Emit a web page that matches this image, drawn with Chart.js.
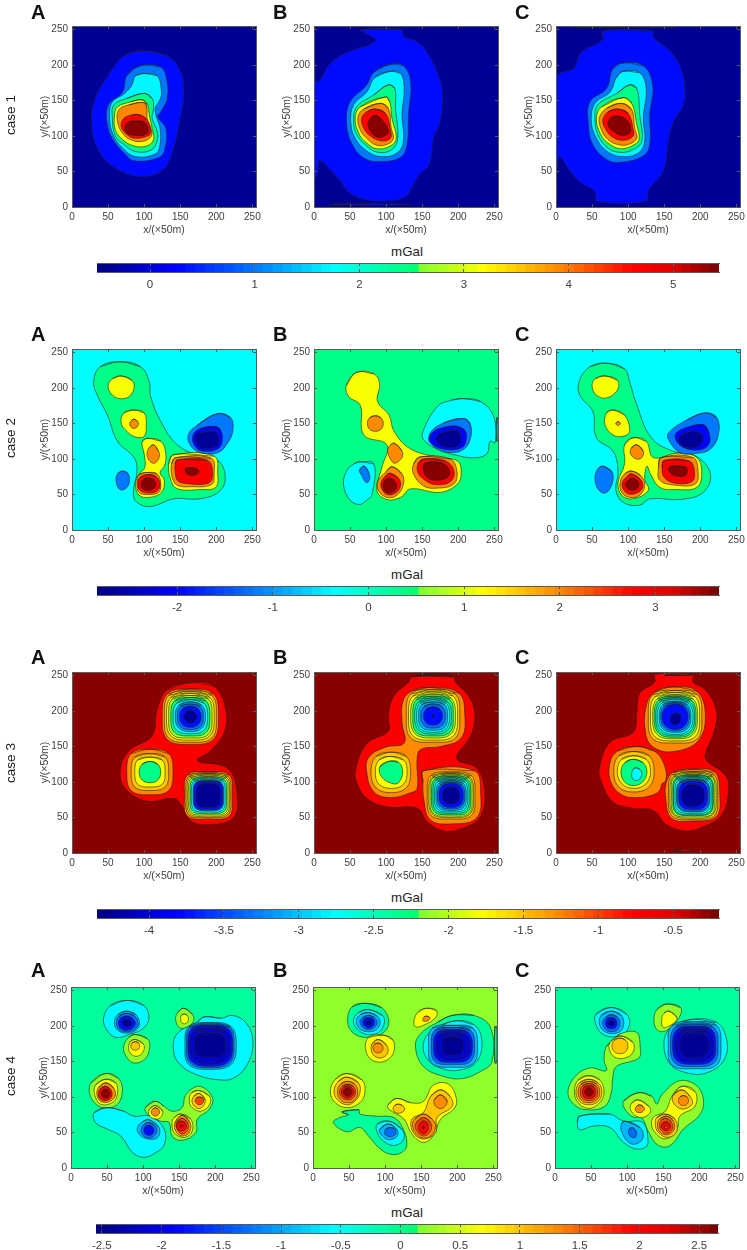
<!DOCTYPE html>
<html>
<head>
<meta charset="utf-8">
<title>case 1-4</title>
<script src="https://cdn.jsdelivr.net/npm/chart.js@4"></script>
<style>
html, body { margin: 0; padding: 0; background: #fff; }
body { position: relative; width: 747px; height: 1250px; overflow: hidden; font-family: "Liberation Sans", Arial, sans-serif; }
canvas { position: absolute; }
.letter { position: absolute; font-weight: bold; font-size: 20px; line-height: 20px; color: #111; }
.case { position: absolute; font-size: 13.5px; line-height: 14px; color: #222; transform: translate(-50%, -50%) rotate(-90deg); white-space: nowrap; }
.unit { position: absolute; font-size: 13.3px; line-height: 14px; color: #222; transform: translate(-50%, -50%); }
</style>
</head>
<body>
<script>
const axisMax = 255;
const axisTicks = [0, 50, 100, 150, 200, 250];

// colorbar range and tick labels of each case (mGal)
const barRange1 = [-0.507, 5.437];
const barRange2 = [-2.838, 3.665];
const barRange3 = [-4.348, -0.193];
const barRange4 = [-2.549, 2.658];
const barTicks1 = [0, 1, 2, 3, 4, 5];
const barTicks2 = [-2, -1, 0, 1, 2, 3];
const barTicks3 = [-4, -3.5, -3, -2.5, -2, -1.5, -1, -0.5];
const barTicks4 = [-2.5, -2, -1.5, -1, -0.5, 0, 0.5, 1, 1.5, 2, 2.5];

// value of each filled contour band (mGal)
const levels1 = [-0.39, 0.3, 0.98, 1.7, 2.4, 3.15, 3.9, 4.6, 5.35];
const levels2 = [-2.7, -2.0, -1.2, -0.37, 0.35, 1.16, 1.97, 2.82, 3.57];
const levels3 = [-0.255, -0.73, -1.27, -1.52, -1.79, -2.1, -2.31, -2.56, -2.79, -3.1, -3.35, -3.77, -4.27];
const levels4 = [-2.45, -2.08, -1.82, -1.3, -0.93, -0.6, -0.1, 0.21, 0.65, 0.99, 1.3, 1.62, 1.98, 2.35, 2.58];

// band behind the contours, panels A B C
const back1 = [0, 0, 0];
const back2 = [3, 4, 3];
const back3 = [0, 0, 0];
const back4 = [6, 7, 6];

// contours: [band index, [[x, y], ...]] in x/(×50m), y/(×50m)
const case1A = [
 [1,[[95,220],[132,213],[151,190],[155,158],[151,130],[141,83],[127,53],[95,43],[58,56],[35,83],[27,120],[32,153],[53,190],[72,213]]],
 [2,[[95,199],[123,197],[131,181],[132,153],[123,134],[119,127],[130,111],[129,83],[121,70],[86,65],[72,76],[60,90],[50,111],[50,143],[70,162],[76,185]]],
 [3,[[100,188],[118,185],[124,162],[122,151],[115,137],[122,111],[122,88],[116,75],[88,71],[70,83],[56,104],[52,130],[56,148],[73,160],[83,172],[88,185]]],
 [4,[[100,160],[111,153],[113,139],[111,125],[118,107],[118,93],[109,80],[88,78],[72,88],[60,100],[56,125],[58,144],[76,153]]],
 [5,[[97,151],[105,144],[107,130],[111,111],[113,95],[104,86],[86,86],[70,95],[60,109],[59,130],[63,141],[81,148]]],
 [6,[[100,147],[104,139],[104,125],[110,109],[110,100],[100,93],[83,94],[70,104],[63,121],[65,137],[79,144]]],
 [7,[[93,130],[104,123],[109,109],[107,101],[86,97],[74,104],[68,114],[72,125],[81,129]]],
 [8,[[88,121],[100,120],[106,109],[102,102],[86,101],[76,104],[73,112],[79,120]]]
];
const case1B = [
 [1,[[64,250],[122,250],[124,241],[143,233],[157,218],[171,190],[178,162],[175,120],[166,97],[160,60],[147,46],[136,28],[129,16],[110,9],[78,9],[50,19],[36,37],[22,53],[8,65],[5,46],[-2,37],[-2,178],[7,178],[20,199],[41,216],[85,234],[69,246]]],
 [1,[[22,4],[75,5],[135,4],[75,2.5]]],
 [2,[[106,201],[124,199],[134,176],[131,130],[129,88],[120,70],[92,64],[69,69],[52,90],[45,120],[50,148],[73,172],[83,190]]],
 [3,[[106,191],[120,188],[125,167],[122,130],[124,93],[115,76],[92,71],[73,79],[57,97],[51,120],[55,144],[73,162],[85,183]]],
 [4,[[103,172],[112,167],[113,139],[116,97],[108,81],[89,77],[73,86],[59,102],[55,120],[59,141],[83,158]]],
 [5,[[99,155],[105,148],[108,125],[114,97],[106,86],[87,82],[73,90],[62,104],[57,125],[64,141]]],
 [6,[[92,146],[103,139],[107,111],[110,97],[103,89],[87,87],[73,97],[64,109],[61,127],[69,138]]],
 [7,[[85,138],[99,132],[106,109],[106,97],[94,93],[78,100],[69,111],[66,125],[73,134]]],
 [8,[[85,129],[94,123],[103,109],[101,102],[89,98],[80,104],[75,114],[77,123]]]
];
const case1C = [
 [1,[[65,248],[135,248],[135,239],[156,222],[172,199],[179,167],[177,144],[163,120],[156,93],[149,51],[128,23],[125,8],[56,8],[54,21],[33,35],[19,51],[5,70],[1,42],[-2,40],[-2,180],[7,189],[24,195],[35,218],[65,236]]],
 [1,[[26,252.5],[95,253],[165,252.5],[95,254.5]]],
 [2,[[93,203],[121,199],[134,172],[130,130],[130,88],[121,72],[89,63],[70,67],[51,88],[45,116],[47,148],[70,167],[79,195]]],
 [3,[[93,191],[116,189],[125,167],[121,125],[123,93],[114,76],[91,71],[70,79],[56,97],[49,120],[54,146],[75,162],[84,183]]],
 [4,[[102,172],[112,167],[116,130],[119,93],[107,81],[89,77],[72,83],[58,102],[54,125],[58,144],[84,160]]],
 [5,[[93,154],[105,146],[112,116],[115,95],[105,86],[89,82],[72,90],[61,104],[56,125],[63,141]]],
 [6,[[91,146],[105,137],[109,111],[112,97],[100,88],[86,88],[72,95],[63,109],[60,125],[70,139]]],
 [7,[[86,138],[100,132],[107,109],[107,100],[95,94],[79,98],[68,111],[65,123],[72,134]]],
 [8,[[84,128],[95,125],[103,114],[102,104],[91,101],[79,107],[72,116],[75,125]]]
];

const case2A = [
 [4,[[67,237],[95,230],[107,209],[109,188],[123,153],[146,120],[178,104],[201,99],[212,79],[206,56],[178,44],[141,44],[109,33],[90,39],[85,53],[90,83],[86,102],[63,125],[49,162],[35,190],[30,209],[39,230]]],
 [5,[[68,217],[83,211],[86,200],[79,188],[67,185],[56,190],[50,202],[56,213]]],
 [5,[[86,169],[100,165],[103,148],[100,132],[88,131],[76,139],[68,151],[72,165]]],
 [6,[[86,156],[91,153],[92,149],[90,145],[85,143],[81,146],[80,150],[82,154]]],
 [5,[[104,129],[123,125],[130,107],[128,90],[122,81],[128,70],[124,53],[107,46],[93,49],[88,65],[93,79],[101,88],[100,107],[97,124]]],
 [6,[[113,120],[120,111],[121,104],[118,97],[113,94],[107,98],[104,107],[107,116]]],
 [6,[[104,81],[118,79],[123,65],[120,53],[104,50],[93,53],[90,65],[93,78]]],
 [7,[[105,78],[117,75],[122,64],[118,55],[105,52],[94,56],[91,64],[94,74]]],
 [8,[[107,73],[114,70],[116,64],[113,58],[104,56],[97,59],[96,66],[100,72]]],
 [5,[[141,106],[197,104],[202,79],[199,60],[178,57],[146,58],[137,70],[134,93]]],
 [6,[[144,102],[193,101],[197,79],[193,64],[165,61],[146,63],[139,74],[138,93]]],
 [7,[[146,99],[188,98],[195,79],[189,66],[155,66],[146,70],[143,83],[143,93]]],
 [8,[[157,86],[171,87],[176,82],[169,77],[160,79]]],
 [2,[[70,83],[78,79],[79,65],[72,57],[65,58],[61,70],[63,79]]],
 [2,[[202,164],[220,158],[223,141],[216,123],[202,109],[178,109],[165,118],[161,134],[174,148]]],
 [1,[[197,146],[206,141],[208,125],[202,114],[183,111],[172,116],[167,130],[174,141]]],
 [0,[[197,139],[202,134],[202,120],[192,115],[178,116],[172,125],[172,134],[178,137]]]
];
const case2B = [
 [5,[[59,222],[83,220],[91,206],[88,181],[104,162],[111,139],[134,114],[175,102],[199,97],[204,81],[199,65],[175,53],[134,58],[120,46],[101,43],[87,56],[94,88],[101,120],[69,134],[64,176],[48,188],[45,204]]],
 [6,[[85,161],[93,158],[96,150],[93,142],[85,139],[77,142],[74,150],[77,158]]],
 [6,[[112,122],[122,111],[122,102],[112,94],[106,100],[102,111],[106,120]]],
 [6,[[108,89],[122,79],[124,65],[115,49],[101,46],[89,56],[89,70],[99,81]]],
 [7,[[105,80],[117,73],[120,63],[113,52],[101,50],[94,58],[93,67],[99,76]]],
 [8,[[105,73],[113,67],[114,58],[108,53],[100,53],[96,60],[97,68]]],
 [6,[[147,103],[189,100],[198,83],[194,65],[171,59],[152,62],[138,79],[138,93]]],
 [7,[[152,100],[183,97],[194,83],[189,68],[168,64],[154,70],[144,81],[144,93]]],
 [8,[[154,94],[178,94],[188,83],[185,74],[168,70],[157,74],[152,83]]],
 [3,[[208,185],[231,181],[249,160],[251,123],[244,125],[240,108],[226,102],[203,104],[171,114],[152,127],[151,139],[171,174],[191,183]]],
 [3,[[253,158],[254.5,158],[254.5,125],[253,125]]],
 [2,[[208,157],[217,148],[217,130],[208,114],[189,109],[171,114],[161,125],[161,137],[180,151]]],
 [1,[[198,146],[210,139],[210,123],[203,115],[185,113],[168,118],[159,127],[166,139],[182,145]]],
 [0,[[198,140],[203,132],[201,120],[189,116],[175,120],[169,130],[178,137]]],
 [3,[[64,96],[83,93],[80,49],[73,42],[63,36],[50,42],[41,63],[45,83],[55,93]]],
 [2,[[69,90],[76,81],[77,70],[72,67],[66,77],[63,84]]]
];
const case2C = [
 [4,[[70,235],[95,227],[102,209],[111,179],[132,130],[162,111],[194,104],[214,79],[204,53],[172,43],[130,44],[116,35],[93,39],[83,56],[86,83],[79,111],[56,130],[51,167],[33,190],[32,209],[47,230]]],
 [5,[[68,217],[85,211],[85,197],[70,186],[56,190],[50,202],[54,213]]],
 [5,[[79,169],[95,162],[102,139],[93,132],[79,134],[68,148],[70,165]]],
 [6,[[86,153],[89,150],[86,147],[83,150]]],
 [5,[[107,130],[125,125],[135,102],[167,108],[195,102],[202,79],[195,60],[167,57],[144,60],[131,79],[126,90],[123,72],[128,56],[107,44],[91,49],[86,67],[95,93],[95,120]]],
 [6,[[112,120],[121,111],[119,102],[112,100],[104,106],[104,115]]],
 [6,[[105,83],[118,76],[123,63],[116,49],[102,46],[91,53],[89,67],[95,79]]],
 [7,[[105,79],[118,70],[120,60],[112,52],[100,51],[93,58],[92,67],[98,75]]],
 [8,[[106,73],[114,67],[114,60],[106,56],[98,60],[97,66]]],
 [6,[[146,102],[190,102],[197,81],[193,65],[167,63],[144,70],[142,88]]],
 [7,[[150,98],[185,97],[192,81],[188,68],[165,66],[150,74],[147,88]]],
 [8,[[158,89],[179,89],[182,83],[178,76],[163,77],[157,83]]],
 [2,[[65,90],[78,81],[77,63],[68,52],[58,58],[54,74],[58,86]]],
 [2,[[207,165],[223,158],[225,134],[214,114],[195,108],[172,109],[156,127],[156,137],[181,155]]],
 [1,[[205,148],[212,137],[212,121],[200,113],[177,116],[166,127],[167,137],[186,146]]],
 [0,[[190,139],[202,134],[202,123],[190,116],[177,118],[170,127],[174,134]]]
];

const case3A = [
 [1,[[165,240],[197,235],[213,202],[211,170],[192,144],[174,130],[216,119],[229,82],[223,49],[188,40],[165,45],[151,68],[141,77],[104,73],[74,91],[67,116],[79,144],[111,165],[118,202],[132,230]]],
 [2,[[164,231],[196,224],[203,192],[196,160],[164,153],[132,160],[125,192],[132,224]]],
 [3,[[164,228],[194,222],[200,192],[194,162],[164,156],[134,162],[128,192],[134,222]]],
 [4,[[164,225],[191,219],[197,192],[191,165],[164,159],[137,165],[131,192],[137,219]]],
 [5,[[164,222],[189,217],[194,192],[189,167],[164,162],[139,167],[134,192],[139,217]]],
 [6,[[164,219],[186,214],[191,192],[186,170],[164,165],[142,170],[137,192],[142,214]]],
 [8,[[164,216],[183,211],[188,192],[183,173],[164,168],[145,173],[140,192],[145,211]]],
 [9,[[164,213],[180,208],[185,192],[180,176],[164,171],[148,176],[143,192],[148,208]]],
 [10,[[164,210],[178,206],[182,192],[178,178],[164,174],[150,178],[146,192],[150,206]]],
 [11,[[164,207],[175,203],[179,192],[175,181],[164,177],[153,181],[149,192],[153,203]]],
 [12,[[164,201],[170,198],[173,192],[170,186],[164,183],[158,186],[155,192],[158,198]]],
 [2,[[189,114],[218,110],[222,81],[218,52],[189,48],[160,52],[156,81],[160,110]]],
 [3,[[189,112],[216,108],[220,81],[216,54],[189,50],[162,54],[158,81],[162,108]]],
 [4,[[189,110],[214.5,106.5],[218,81],[214.5,55.5],[189,52],[163.5,55.5],[160,81],[163.5,106.5]]],
 [5,[[189,108],[213,105],[216,81],[213,57],[189,54],[165,57],[162,81],[165,105]]],
 [7,[[189,106],[211,103],[214,81],[211,59],[189,56],[167,59],[164,81],[167,103]]],
 [8,[[189,104],[209,101],[212,81],[209,61],[189,58],[169,61],[166,81],[169,101]]],
 [10,[[189,102],[207,99],[210,81],[207,63],[189,60],[171,63],[168,81],[171,99]]],
 [11,[[189,101],[206,98],[209,81],[206,64],[189,61],[172,64],[169,81],[172,98]]],
 [12,[[189,98],[203,95],[206,81],[203,67],[189,64],[175,67],[172,81],[175,95]]],
 [2,[[108,146],[134,140],[140,114],[134,88],[108,82],[82,88],[76,114],[82,140]]],
 [3,[[108,140],[129,135],[134,114],[129,93],[108,88],[87,93],[82,114],[87,135]]],
 [4,[[108,135],[125,131],[129,114],[125,97],[108,93],[91,97],[87,114],[91,131]]],
 [6,[[108,129],[119,125],[123,114],[119,103],[108,99],[97,103],[93,114],[97,125]]]
];
const case3B = [
 [1,[[135,248],[194,248],[196,241],[215,220],[223,195],[217,165],[198,133],[226,119],[237,82],[229,49],[203,34],[180,31],[157,44],[143,63],[101,65],[73,77],[59,100],[58,119],[73,154],[103,172],[103,193],[110,220],[131,241]]],
 [0,[[143,251],[166,252],[190,251],[166,250]]],
 [2,[[164,233],[201,225],[209,195],[204,162],[175,150],[148,146],[143,133],[143,91],[134,85],[106,78],[83,86],[73,114],[76,135],[99,149],[125,155],[122,184],[124,216],[138,229]]],
 [2,[[152,116],[222,116],[231,82],[225,49],[189,41],[161,47],[152,77],[151,100]]],
 [3,[[165,230],[196,224],[202,193],[196,162],[165,156],[134,162],[128,193],[134,224]]],
 [4,[[165,227],[193,221],[199,193],[193,165],[165,159],[137,165],[131,193],[137,221]]],
 [5,[[165,224],[190,218],[196,193],[190,168],[165,162],[140,168],[134,193],[140,218]]],
 [6,[[165,221],[188,216],[193,193],[188,170],[165,165],[142,170],[137,193],[142,216]]],
 [7,[[165,218.5],[185,213],[190.5,193],[185,173],[165,167.5],[145,173],[139.5,193],[145,213]]],
 [8,[[165,216],[183,211],[188,193],[183,175],[165,170],[147,175],[142,193],[147,211]]],
 [9,[[165,213],[181,209],[185,193],[181,177],[165,173],[149,177],[145,193],[149,209]]],
 [10,[[165,210],[178,206],[182,193],[178,180],[165,176],[152,180],[148,193],[152,206]]],
 [11,[[165,206],[174.5,202.5],[178,193],[174.5,183.5],[165,180],[155.5,183.5],[152,193],[155.5,202.5]]],
 [12,[[165,195],[167,193],[165,191],[163,193]]],
 [3,[[107,142],[128,136],[134,114],[128,92],[107,85],[86,92],[79,114],[86,136]]],
 [4,[[105,136],[124,131],[129,114],[124,97],[107,91],[90,97],[85,114],[90,131]]],
 [6,[[103,129],[117,128],[123,114],[117,99],[108,98],[94,107],[91,121]]],
 [3,[[190,114],[218,109],[223,81],[218,53],[190,48],[162,53],[157,81],[162,109]]],
 [4,[[190,112],[216,107],[221,81],[216,55],[190,50],[164,55],[159,81],[164,107]]],
 [5,[[190,110],[215,106],[219,81],[215,56],[190,52],[165,56],[161,81],[165,106]]],
 [6,[[190,108],[213,104],[217,81],[213,58],[190,54],[167,58],[163,81],[167,104]]],
 [7,[[190,106],[211,102],[215,81],[211,60],[190,56],[169,60],[165,81],[169,102]]],
 [8,[[190,104],[209,100],[213,81],[209,62],[190,58],[171,62],[167,81],[171,100]]],
 [9,[[190,102],[207,98],[211,81],[207,64],[190,60],[173,64],[169,81],[173,98]]],
 [10,[[190,100],[205,96],[209,81],[205,66],[190,62],[175,66],[171,81],[175,96]]],
 [11,[[190,98],[203,94],[207,81],[203,68],[190,64],[177,68],[173,81],[177,94]]],
 [12,[[190,93],[199,90],[202,81],[199,72],[190,69],[181,72],[178,81],[181,90]]]
];
const case3C = [
 [1,[[137,252],[190,252],[190,241],[207,230],[222,202],[220,174],[207,139],[209,130],[235,109],[239,86],[230,54],[204,37],[181,31],[153,40],[135,60],[107,63],[79,72],[63,100],[60,119],[75,156],[107,170],[112,197],[116,225],[137,241]]],
 [0,[[150,250.5],[170,251],[190,250.5],[170,250]]],
 [1,[[163,4],[176,5],[190,4],[176,2.5]]],
 [2,[[163,234],[195,228],[207,195],[197,158],[163,143],[135,149],[124,170],[126,211],[139,228]]],
 [2,[[112,150],[135,144],[146,133],[153,112],[151,100],[147,98],[144,89],[135,82],[112,78],[91,82],[76,100],[75,128],[86,144]]],
 [2,[[190,118],[220,114],[227,82],[222,51],[190,45],[160,49],[152,77],[153,100],[163,114]]],
 [3,[[165,229],[196,223],[202,192],[196,161],[165,155],[134,161],[128,192],[134,223]]],
 [4,[[165,226],[193,220],[199,192],[193,164],[165,158],[137,164],[131,192],[137,220]]],
 [5,[[165,223],[190,217],[196,192],[190,167],[165,161],[140,167],[134,192],[140,217]]],
 [6,[[165,221],[188,215],[194,192],[188,169],[165,163],[142,169],[136,192],[142,215]]],
 [7,[[165,219],[186,213],[192,192],[186,171],[165,165],[144,171],[138,192],[144,213]]],
 [8,[[165,217],[184,211],[190,192],[184,173],[165,167],[146,173],[140,192],[146,211]]],
 [9,[[165,214],[182,209],[187,192],[182,175],[165,170],[148,175],[143,192],[148,209]]],
 [10,[[165,212],[180,207],[185,192],[180,177],[165,172],[150,177],[145,192],[150,207]]],
 [11,[[165,210],[178,205],[183,192],[178,179],[165,174],[152,179],[147,192],[152,205]]],
 [12,[[166,197],[172,195],[173,189],[170,182],[163,181],[159,185],[160,194]]],
 [3,[[108,143],[129,137],[136,115],[129,93],[108,86],[87,93],[80,115],[87,137]]],
 [4,[[108,137],[125,132],[131,115],[125,98],[108,91],[91,98],[85,115],[91,132]]],
 [6,[[107,132],[121,127],[126,114],[120,100],[107,95],[95,100],[90,114],[95,127]]],
 [8,[[111,120],[117,117],[119,111],[116,104],[111,102],[106,105],[105,112],[107,118]]],
 [3,[[190,115],[219,110],[224,81],[219,52],[190,47],[161,52],[156,81],[161,110]]],
 [4,[[190,113],[217,108],[222,81],[217,54],[190,49],[163,54],[158,81],[163,108]]],
 [5,[[190,111],[216,107],[220,81],[216,55],[190,51],[164,55],[160,81],[164,107]]],
 [6,[[190,109],[214,105],[218,81],[214,57],[190,53],[166,57],[162,81],[166,105]]],
 [7,[[190,108],[213,104],[217,81],[213,58],[190,54],[167,58],[163,81],[167,104]]],
 [8,[[190,106],[211,102],[215,81],[211,60],[190,56],[169,60],[165,81],[169,102]]],
 [9,[[190,104],[209,100],[213,81],[209,62],[190,58],[171,62],[167,81],[171,100]]],
 [10,[[190,103],[208,99],[212,81],[208,63],[190,59],[172,63],[168,81],[172,99]]],
 [11,[[190,101],[206,97],[210,81],[206,65],[190,61],[174,65],[170,81],[174,97]]],
 [12,[[190,97],[202,93],[206,81],[202,69],[190,65],[178,69],[174,81],[178,93]]]
];

const case4A = [
 [5,[[78,236],[101,229],[108,210],[99,196],[83,189],[62,184],[50,194],[45,210],[55,229]]],
 [4,[[77,221],[90,216],[95,204],[90,194],[77,190],[65,194],[60,204],[65,216]]],
 [3,[[77,218],[88,214],[93,204],[88,195],[77,192],[67,195],[63,204],[67,214]]],
 [2,[[77,214],[85,211],[89,204],[85,197],[77,194],[69,197],[66,204],[69,211]]],
 [0,[[77,209],[82,208],[84,204],[82,200],[77,199],[73,200],[71,204],[73,208]]],
 [7,[[89,188],[106,182],[109,170],[103,154],[87,148],[76,158],[73,171],[80,184]]],
 [8,[[89,181],[100,175],[101,166],[94,158],[85,159],[80,167],[82,178]]],
 [9,[[89,178],[94,176],[95,172],[94,168],[89,166],[84,168],[83,172],[84,176]]],
 [7,[[156,225],[168,217],[170,208],[161,198],[150,198],[145,210],[148,219]]],
 [8,[[157,217],[161,215],[163,210],[161,205],[157,203],[153,205],[152,210],[153,215]]],
 [5,[[185,213],[208,211],[224,215],[242,205],[252,180],[245,147],[226,127],[208,124],[175,131],[150,147],[142,166],[147,189],[175,206]]],
 [4,[[192,205],[222,199],[229,173],[222,146],[192,139],[163,146],[158,173],[163,199]]],
 [3,[[192,203],[220,198],[226,173],[220,148],[192,141],[165,148],[160,173],[165,198]]],
 [2,[[192,201],[218,196],[224,173],[218,150],[192,143],[167,150],[162,173],[167,196]]],
 [1,[[192,198],[215,193],[221,173],[215,153],[192,146],[170,153],[164,173],[170,193]]],
 [1,[[192,195],[212,191],[218,173],[212,155],[192,149],[172,155],[167,173],[172,191]]],
 [0,[[192,190],[210,187],[214,173],[210,159],[192,156],[175,159],[171,173],[175,187]]],
 [7,[[48,133],[66,126],[71,106],[62,88],[41,86],[27,101],[28,120]]],
 [8,[[48,125],[62,120],[64,103],[57,92],[41,90],[33,103],[34,117]]],
 [10,[[48,120],[59,113],[61,101],[52,93],[41,94],[36,103],[38,113]]],
 [12,[[48,115],[56,109],[56,100],[50,95],[42,96],[38,103],[40,111]]],
 [14,[[48,111],[52,109],[54,105],[52,100],[48,98],[44,100],[42,105],[44,109]]],
 [5,[[50,85],[73,80],[87,73],[110,73],[129,55],[129,32],[118,22],[101,15],[85,22],[69,45],[50,55],[34,64],[32,78]]],
 [4,[[108,68],[122,57],[120,43],[106,41],[94,48],[92,57],[99,65]]],
 [3,[[108,64],[116,60],[119,53],[116,46],[108,42],[100,46],[97,53],[100,60]]],
 [2,[[108,60],[113,58],[115,53],[113,48],[108,46],[103,48],[101,53],[103,58]]],
 [7,[[117,94],[129,87],[140,80],[154,85],[159,103],[178,115],[196,99],[191,82],[175,69],[173,50],[154,39],[140,45],[136,64],[124,66],[106,76],[103,85]]],
 [8,[[117,88],[127,80],[124,71],[117,69],[109,73],[108,82]]],
 [10,[[117,85],[121,83],[123,79],[121,75],[117,73],[113,75],[111,79],[113,83]]],
 [8,[[178,109],[192,101],[192,89],[180,80],[168,85],[164,94],[167,106]]],
 [9,[[178,105],[186,96],[182,86],[175,84],[168,92],[170,101]]],
 [11,[[178,100],[182,99],[184,95],[182,91],[178,89],[174,91],[172,95],[174,99]]],
 [8,[[152,76],[166,69],[168,52],[157,43],[143,50],[140,64],[143,71]]],
 [10,[[154,74],[165,64],[164,50],[154,45],[145,52],[144,64]]],
 [11,[[154,70],[162,63],[161,52],[154,48],[148,53],[146,63]]],
 [12,[[153,66],[158,64],[160,59],[158,54],[153,52],[148,54],[146,59],[148,64]]],
 [13,[[153,61],[155,59],[153,57],[151,59]]]
];
const case4B = [
 [6,[[72,232],[95,226],[105,207],[98,191],[75,184],[56,190],[48,206],[54,227]]],
 [5,[[77,223],[96,215],[99,205],[91,191],[75,188],[61,196],[56,208],[63,219]]],
 [4,[[77,219],[89,214],[93,205],[88,195],[76,192],[65,196],[60,206],[65,216]]],
 [3,[[77,215],[85,212],[89,205],[85,198],[76,195],[69,198],[65,206],[69,212]]],
 [2,[[77,212],[83,210],[85,205],[83,200],[77,197],[71,200],[69,205],[71,210]]],
 [0,[[77,208],[80,207],[81,205],[80,202],[77,201],[74,202],[73,205],[74,207]]],
 [8,[[98,187],[111,180],[111,161],[98,150],[82,152],[73,166],[77,184]]],
 [9,[[90,181],[102,173],[103,161],[93,155],[83,160],[81,173]]],
 [10,[[90,176],[95,174],[97,169],[95,164],[90,162],[85,164],[83,169],[85,174]]],
 [8,[[157,225],[171,222],[170,212],[153,201],[142,199],[140,208],[146,220]]],
 [10,[[157,214],[161,213],[162,210],[158,207],[153,207],[152,209],[154,213]]],
 [6,[[193,215],[223,215],[246,198],[248,150],[232,136],[207,126],[181,129],[153,143],[142,171],[149,189],[172,205]]],
 [6,[[252,198],[254.5,198],[254.5,148],[252,148]]],
 [5,[[195,207],[223,202],[234,180],[227,150],[204,138],[179,140],[158,154],[153,175],[163,192]]],
 [4,[[194,201],[222,197],[228,172],[222,147],[194,142],[165,147],[160,172],[165,197]]],
 [3,[[194,198],[218,194],[224,172],[218,150],[194,146],[169,150],[164,172],[169,194]]],
 [2,[[194,195],[215,191],[221,172],[215,153],[194,149],[172,153],[167,172],[172,191]]],
 [1,[[194,192],[212,188],[218,172],[212,156],[194,152],[175,156],[170,172],[175,188]]],
 [1,[[194,189],[209,185],[215,172],[209,159],[194,155],[178,159],[173,172],[178,185]]],
 [0,[[194,185],[205,182],[209,172],[205,162],[194,159],[182,162],[179,172],[182,182]]],
 [8,[[47,133],[68,124],[72,107],[65,92],[47,85],[31,92],[24,107],[31,125]]],
 [9,[[47,128],[63,120],[65,106],[58,94],[47,89],[34,96],[29,108],[35,122]]],
 [10,[[48,122],[58,118],[62,107],[58,96],[48,92],[38,96],[34,107],[38,118]]],
 [11,[[48,118],[56,115],[59,107],[56,99],[48,96],[40,99],[37,107],[40,115]]],
 [12,[[48,116],[54,113],[57,107],[54,101],[48,98],[42,101],[39,107],[42,113]]],
 [14,[[48,113],[52,111],[54,107],[52,103],[48,101],[44,103],[42,107],[44,111]]],
 [6,[[40,79],[64,82],[65,76],[89,73],[112,71],[125,55],[130,32],[123,22],[109,19],[93,27],[77,45],[65,57],[47,51],[28,64],[37,71],[49,75]]],
 [5,[[105,66],[123,55],[126,41],[114,32],[100,36],[89,50],[89,62]]],
 [4,[[105,62],[117,53],[116,44],[105,40],[96,45],[92,54]]],
 [3,[[107,57],[113,55],[115,50],[113,46],[107,44],[101,46],[99,50],[101,55]]],
 [8,[[116,98],[135,92],[153,94],[167,117],[188,118],[199,96],[195,83],[177,69],[167,46],[153,36],[137,48],[126,69],[105,83],[104,89]]],
 [9,[[118,90],[124,88],[127,83],[124,79],[118,77],[113,79],[111,84],[113,88]]],
 [9,[[177,110],[190,101],[193,87],[172,71],[170,50],[153,41],[139,50],[137,69],[153,78],[163,101]]],
 [10,[[177,103],[186,94],[179,84],[170,87],[168,96]]],
 [10,[[153,76],[165,69],[170,57],[160,43],[146,45],[138,59],[141,69]]],
 [11,[[153,71],[163,64],[163,52],[153,45],[144,52],[142,62]]],
 [12,[[153,66],[159,63],[160,57],[158,51],[153,48],[148,51],[146,57],[148,63]]],
 [13,[[153,59],[154.5,57],[153,55],[151.5,57]]]
];
const case4C = [
 [5,[[78,226],[99,217],[103,201],[92,187],[69,187],[57,201],[57,217]]],
 [4,[[78,221],[92,215],[95,201],[88,191],[71,191],[62,201],[64,215]]],
 [3,[[78,216],[87,212],[90,204],[87,195],[78,192],[70,195],[66,204],[70,212]]],
 [2,[[78,212],[84,210],[86,204],[84,198],[78,196],[72,198],[70,204],[72,210]]],
 [0,[[78,208],[81,207],[82,204],[81,201],[78,200],[75,201],[74,204],[75,207]]],
 [7,[[81,180],[90,189],[113,191],[118,171],[116,155],[85,143],[80,127],[78,106],[69,87],[46,82],[28,88],[18,106],[28,129],[48,141],[71,137],[68,152],[71,171]]],
 [8,[[91,186],[108,177],[108,163],[97,155],[83,156],[75,168],[78,179]]],
 [9,[[90,183],[98,180],[101,172],[98,164],[90,161],[82,164],[79,172],[82,180]]],
 [8,[[47,130],[62,124],[68,107],[62,92],[47,84],[32,92],[27,107],[32,124]]],
 [9,[[47,125],[60,120],[65,107],[60,94],[47,89],[34,94],[29,107],[34,120]]],
 [10,[[47,122],[58,118],[62,107],[58,96],[47,92],[36,96],[32,107],[36,118]]],
 [11,[[47,119],[56,116],[59,107],[56,98],[47,95],[38,98],[35,107],[38,116]]],
 [12,[[47,116],[54,114],[56,107],[54,100],[47,98],[40,100],[38,107],[40,114]]],
 [14,[[47,113],[51,111],[53,107],[51,103],[47,101],[43,103],[41,107],[43,111]]],
 [7,[[155,231],[174,226],[172,212],[155,194],[142,194],[137,210],[142,224]]],
 [8,[[158,221],[169,212],[163,203],[150,198],[148,210],[151,218]]],
 [5,[[187,209],[224,205],[238,180],[234,152],[210,134],[183,134],[159,147],[151,175],[159,196]]],
 [4,[[193,206],[224,201],[230,173],[224,145],[193,140],[162,145],[157,173],[162,201]]],
 [3,[[193,203],[220,198],[226,173],[220,148],[193,143],[166,148],[160,173],[166,198]]],
 [2,[[193,200],[217,195],[223,173],[217,151],[193,146],[169,151],[163,173],[169,195]]],
 [1,[[193,197],[214,192],[220,173],[214,154],[193,149],[172,154],[166,173],[172,192]]],
 [1,[[193,194],[212,190],[217,173],[212,156],[193,152],[174,156],[169,173],[174,190]]],
 [0,[[193,190],[208,187],[213,173],[208,159],[193,156],[178,159],[173,173],[178,187]]],
 [5,[[34,73],[76,76],[95,66],[122,64],[129,37],[125,29],[111,27],[95,36],[76,57],[53,59],[34,54],[31,64]]],
 [4,[[97,66],[118,57],[122,43],[113,34],[102,36],[92,52],[92,62]]],
 [3,[[107,57],[113,50],[111,43],[104,45],[102,53]]],
 [7,[[115,106],[134,101],[141,90],[148,103],[173,123],[197,115],[206,92],[199,73],[178,55],[160,32],[143,32],[129,52],[120,71],[108,72],[97,83],[95,94]]],
 [8,[[115,96],[130,87],[132,78],[118,71],[105,81],[106,91]]],
 [10,[[117,89],[122,87],[124,83],[121,79],[117,78],[113,79],[111,83],[113,87]]],
 [8,[[176,115],[194,108],[194,87],[173,73],[169,55],[153,41],[136,54],[136,71],[153,80],[162,101]]],
 [9,[[176,110],[187,101],[190,90],[176,83],[164,92],[164,103]]],
 [10,[[178,102],[183,100],[185,95],[183,90],[178,88],[173,90],[171,95],[173,100]]],
 [9,[[153,76],[166,69],[169,52],[157,43],[143,50],[139,62],[141,71]]],
 [10,[[155,73],[164,66],[165,54],[156,47],[146,50],[142,60],[145,69]]],
 [11,[[154,70],[161,65],[163,56],[156,49],[148,52],[145,60],[147,67]]],
 [12,[[154,65],[159,62],[160,57],[156,53],[150,54],[147,59],[149,63]]],
 [10,[[154,60],[156,58],[154,56],[152,58]]]
];

// colormap of the colorbars: jet like, with a step at the green end
const cmapStops = [
 [0, [0, 0, 130]], [0.125, [0, 0, 255]], [0.26, [0, 128, 255]], [0.38, [0, 255, 255]],
 [0.512, [0, 255, 110]], [0.516, [125, 255, 50]], [0.62, [255, 255, 0]], [0.75, [255, 128, 0]],
 [0.86, [255, 0, 0]], [0.925, [225, 0, 0]], [1, [115, 0, 0]]
];
const colorSteps = 64;

function cmap(t) {
    t = Math.max(0, Math.min(1, t));
    for (let i = 1; i < cmapStops.length; i++) {
        if (t <= cmapStops[i][0]) {
            const [t0, c0] = cmapStops[i - 1];
            const [t1, c1] = cmapStops[i];
            const k = (t - t0) / (t1 - t0);
            const rgb = c0.map((c, j) => Math.round(c + (c1[j] - c) * k));
            return `rgb(${rgb.join(",")})`;
        }
    }
    return "rgb(115,0,0)";
}

const textColor = "#404040";
const frameColor = "#5a5a5a";
const tickLen = -3;
const fixedTicks = (list) => (scale) => { scale.ticks = list.map((v) => ({ value: v })); };

function baseScale(list, range, position, extra) {
    return Object.assign({
        type: "linear",
        position: position,
        min: range[0],
        max: range[1],
        afterBuildTicks: fixedTicks(list),
        grid: { drawOnChartArea: false, drawTicks: true, tickLength: tickLen, color: frameColor, z: 2 },
        border: { color: frameColor, z: 2 },
        ticks: { display: false }
    }, extra);
}

function drawPanel(left, top, contours, back, levels, range) {
    const canvas = document.createElement("canvas");
    canvas.width = 238;
    canvas.height = 229;
    canvas.style.left = (left - 40) + "px";
    canvas.style.top = (top - 10) + "px";
    document.body.appendChild(canvas);

    const color = (band) => cmap((levels[band] - range[0]) / (range[1] - range[0]));
    const rect = [[0, 0], [axisMax, 0], [axisMax, axisMax], [0, axisMax], [0, 0]];
    const line = (pts, band, tension, width) => ({
        data: pts.map((p) => ({ x: p[0], y: p[1] })),
        showLine: true,
        fill: "shape",
        backgroundColor: color(band),
        borderColor: "#222",
        borderWidth: width,
        pointRadius: 0,
        tension: tension
    });
    const datasets = [line(rect, back, 0, 0)];
    // run the curve past its start so that it closes without a corner
    contours.forEach((c) => {
        const pts = c[1];
        datasets.push(line([pts[pts.length - 1]].concat(pts, [pts[0], pts[1]]), c[0], 0.4, 0.6));
    });
    datasets.reverse(); // first dataset is painted last

    const tickFont = { size: 10, family: "'Liberation Sans', Arial, sans-serif" };
    const titleFont = { size: 10.5, family: "'Liberation Sans', Arial, sans-serif" };
    new Chart(canvas, {
        type: "scatter",
        data: { datasets: datasets },
        options: {
            responsive: false,
            animation: false,
            events: [],
            layout: { padding: { top: 10, right: 14, left: 0, bottom: 0 } },
            plugins: { legend: { display: false }, tooltip: { enabled: false } },
            scales: {
                x: baseScale(axisTicks, [0, axisMax], "bottom", {
                    ticks: { autoSkip: false, maxRotation: 0, padding: 7, color: textColor, font: tickFont },
                    title: { display: true, text: "x/(×50m)", color: textColor, font: titleFont, padding: { top: 0, bottom: 6 } },
                    afterFit: (s) => { s.height = 35; }
                }),
                y: baseScale(axisTicks, [0, axisMax], "left", {
                    ticks: { autoSkip: false, padding: 7, color: textColor, font: tickFont },
                    title: { display: true, text: "y/(×50m)", color: textColor, font: titleFont, padding: { top: 7, bottom: 0 } },
                    afterFit: (s) => { s.width = 40; }
                }),
                xTop: baseScale(axisTicks, [0, axisMax], "top", { afterFit: (s) => { s.height = 0; } }),
                yRight: baseScale(axisTicks, [0, axisMax], "right", { afterFit: (s) => { s.width = 0; } })
            }
        }
    });
}

function drawColorbar(left, top, range, list) {
    const canvas = document.createElement("canvas");
    canvas.width = 642;
    canvas.height = 36;
    canvas.style.left = (left - 10) + "px";
    canvas.style.top = (top - 2) + "px";
    document.body.appendChild(canvas);

    const step = (range[1] - range[0]) / colorSteps;
    const datasets = [];
    for (let i = 0; i < colorSteps; i++) {
        const lo = range[0] + i * step;
        datasets.push({
            data: [[lo, Math.min(range[1], lo + step * 1.05)]],
            backgroundColor: cmap((i + 0.5) / colorSteps),
            borderWidth: 0,
            grouped: false,
            barPercentage: 1,
            categoryPercentage: 1
        });
    }
    new Chart(canvas, {
        type: "bar",
        data: { labels: ["mGal"], datasets: datasets },
        options: {
            indexAxis: "y",
            responsive: false,
            animation: false,
            events: [],
            layout: { padding: { top: 2, right: 10, left: 10, bottom: 0 } },
            plugins: { legend: { display: false }, tooltip: { enabled: false } },
            scales: {
                x: baseScale(list, range, "bottom", {
                    ticks: {
                        autoSkip: false, maxRotation: 0, padding: 9, color: textColor,
                        font: { size: 11.5, family: "'Liberation Sans', Arial, sans-serif" },
                        callback: (v) => String(v)
                    },
                    // labels near the ends must not shrink the bar
                    afterFit: (s) => { s.height = 25; s.paddingLeft = 0; s.paddingRight = 0; }
                }),
                xTop: baseScale(list, range, "top", { afterFit: (s) => { s.height = 0; } }),
                y: { type: "category", display: false }
            }
        }
    });
}

function addText(cls, text, x, y) {
    const el = document.createElement("div");
    el.className = cls;
    el.textContent = text;
    el.style.left = x + "px";
    el.style.top = y + "px";
    document.body.appendChild(el);
}

const rows = [
    { panels: [case1A, case1B, case1C], back: back1, levels: levels1, range: barRange1, ticks: barTicks1, top: 23, columns: [72, 314, 556], barLeft: 97, barTop: 263, letterY: 2, caseY: 115, unitY: 252, name: "case 1" },
    { panels: [case2A, case2B, case2C], back: back2, levels: levels2, range: barRange2, ticks: barTicks2, top: 346, columns: [72, 314, 556], barLeft: 97, barTop: 586, letterY: 324, caseY: 438, unitY: 575, name: "case 2" },
    { panels: [case3A, case3B, case3C], back: back3, levels: levels3, range: barRange3, ticks: barTicks3, top: 669, columns: [72, 314, 556], barLeft: 97, barTop: 909, letterY: 647, caseY: 763, unitY: 898, name: "case 3" },
    { panels: [case4A, case4B, case4C], back: back4, levels: levels4, range: barRange4, ticks: barTicks4, top: 984, columns: [71, 313, 555], barLeft: 96, barTop: 1224, letterY: 960, caseY: 1076, unitY: 1213, name: "case 4" }
];
const letters = ["A", "B", "C"];
const letterLefts = [31, 273, 515];

rows.forEach((row) => {
    row.panels.forEach((contours, i) => {
        drawPanel(row.columns[i], row.top, contours, row.back[i], row.levels, row.range);
        addText("letter", letters[i], letterLefts[i], row.letterY);
    });
    drawColorbar(row.barLeft, row.barTop, row.range, row.ticks);
    addText("case", row.name, 11, row.caseY);
    addText("unit", "mGal", 407, row.unitY);
});
</script>
</body>
</html>
